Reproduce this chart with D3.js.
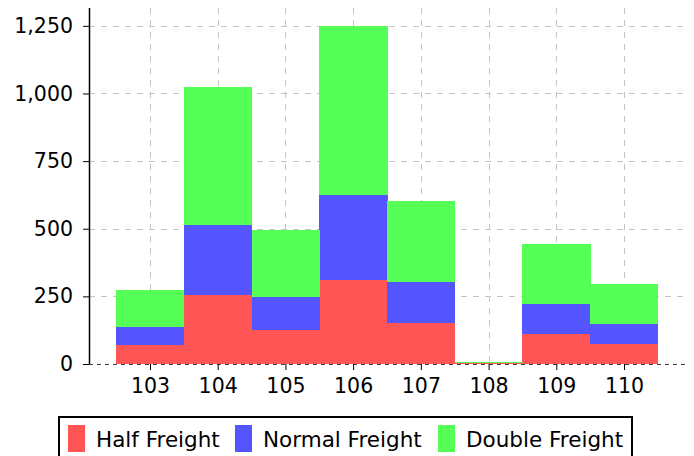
<!DOCTYPE html>
<html>
  <head>
    <style>
      html,
      body {
        margin: 0;
        padding: 0;
        background: #fff;
      }
      svg {
        display: block;
        font-family: 'DejaVu Sans', sans-serif;
      }
    </style>
  </head>
  <body>
    <svg width="694" height="456"></svg>
    <script src="https://cdn.jsdelivr.net/npm/d3@7/dist/d3.min.js"></script>
    <script>
      // data
      const categories = [103, 104, 105, 106, 107, 108, 109, 110];
      const seriesNames = ['Half Freight', 'Normal Freight', 'Double Freight'];
      const halfFreight = [69, 256, 124, 312, 151, 2, 111, 74];
      const normalFreight = [69, 256, 124, 312, 151, 2, 111, 74];
      const doubleFreight = [137, 512, 248, 625, 302, 4, 222, 148];
      const yTicks = [0, 250, 500, 750, 1000, 1250];
      const colors = ['#ff5555', '#5555ff', '#55ff55'];

      const svg = d3.select('svg');
      const plotLeft = 89,
        plotRight = 685,
        plotTop = 8,
        plotBottom = 364;

      const x = d3.scaleLinear().domain([102.1, 110.9]).range([plotLeft, plotRight]);
      const y = d3.scaleLinear().domain([0, 1316]).range([plotBottom, plotTop]);
      const step = x(104) - x(103);

      const rows = categories.map((c, i) => ({
        cat: c,
        'Half Freight': halfFreight[i],
        'Normal Freight': normalFreight[i],
        'Double Freight': doubleFreight[i],
      }));
      const stacked = d3.stack().keys(seriesNames)(rows);

      // grid lines
      const grid = svg.append('g').attr('stroke', '#c4c4c4').attr('stroke-dasharray', '6,6');
      grid
        .selectAll('.hg')
        .data(yTicks.filter((d) => d > 0))
        .enter()
        .append('line')
        .attr('x1', plotLeft)
        .attr('x2', plotRight)
        .attr('y1', (d) => Math.round(y(d)) + 0.5)
        .attr('y2', (d) => Math.round(y(d)) + 0.5);
      grid
        .selectAll('.vg')
        .data(categories)
        .enter()
        .append('line')
        .attr('x1', (d) => Math.round(x(d)) + 0.5)
        .attr('x2', (d) => Math.round(x(d)) + 0.5)
        .attr('y1', plotTop)
        .attr('y2', plotBottom);

      // stacked bars
      svg
        .append('g')
        .attr('shape-rendering', 'crispEdges')
        .selectAll('g')
        .data(stacked)
        .enter()
        .append('g')
        .attr('fill', (d, i) => colors[i])
        .selectAll('rect')
        .data((d) => d)
        .enter()
        .append('rect')
        .attr('x', (d) => x(d.data.cat) - step / 2)
        .attr('width', step + 0.5)
        .attr('y', (d) => y(d[1]))
        .attr('height', (d) => y(d[0]) - y(d[1]));

      // axes
      const yAxis = svg
        .append('g')
        .attr('transform', `translate(${plotLeft},0)`)
        .call(d3.axisLeft(y).tickValues(yTicks).tickSize(6).tickSizeOuter(0).tickPadding(10).tickFormat(d3.format(',')));
      yAxis.select('.domain').attr('d', `M0.5,${plotTop}V${plotBottom}`).attr('stroke', '#000').attr('stroke-width', 1.5);
      yAxis.selectAll('.tick line').attr('stroke', '#000');
      yAxis.selectAll('text').attr('font-size', 20.5).attr('fill', '#000').attr('font-family', 'DejaVu Sans');

      const xAxis = svg
        .append('g')
        .attr('transform', `translate(0,${plotBottom})`)
        .call(d3.axisBottom(x).tickValues(categories).tickSize(6).tickSizeOuter(0).tickPadding(8).tickFormat(d3.format('d')));
      xAxis.select('.domain').attr('stroke', '#444').attr('stroke-dasharray', '4,4').attr('d', `M${plotLeft},0.5H${plotRight}`);
      xAxis.selectAll('.tick line').attr('stroke', '#000');
      xAxis.selectAll('text').attr('font-size', 20.5).attr('fill', '#000').attr('font-family', 'DejaVu Sans');

      // legend
      const legend = svg.append('g');
      legend
        .append('rect')
        .attr('x', 59)
        .attr('y', 417)
        .attr('width', 573)
        .attr('height', 50)
        .attr('fill', '#fff')
        .attr('stroke', '#000')
        .attr('stroke-width', 2);
      const legendX = [68, 235, 438];
      seriesNames.forEach((name, i) => {
        legend
          .append('rect')
          .attr('x', legendX[i])
          .attr('y', 425)
          .attr('width', 17)
          .attr('height', 27)
          .attr('fill', colors[i]);
        legend
          .append('text')
          .attr('x', legendX[i] + 28)
          .attr('y', 446.5)
          .attr('font-size', 21.5)
          .attr('fill', '#000')
          .text(name);
      });
    </script>
  </body>
</html>
